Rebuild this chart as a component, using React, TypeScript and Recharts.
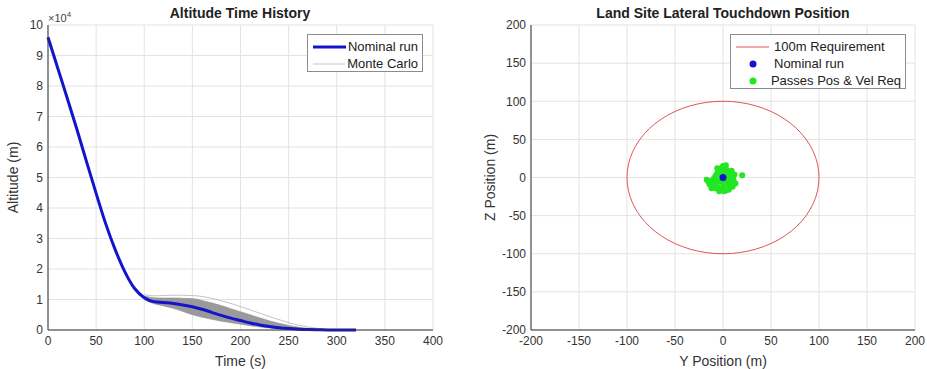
import React from "react";
import {
  ComposedChart,
  Line,
  Area,
  XAxis,
  YAxis,
  CartesianGrid,
  ScatterChart,
  Scatter,
  Label,
} from "recharts";

// ---- Altitude time history (left) ----
const times = [
  0, 10, 20, 30, 40, 50, 60, 70, 80, 90, 100, 110, 120, 130, 140, 150, 160,
  170, 180, 190, 200, 210, 220, 230, 240, 250, 260, 270, 280, 290, 300, 310, 320,
];
const nominalAlt = [
  96000, 86000, 76000, 65800, 55200, 44800, 34800, 26200, 19000, 13600, 10600,
  9300, 9000, 8700, 8200, 7600, 6800, 5800, 4800, 3900, 3100, 2300, 1650, 1150,
  750, 470, 270, 150, 80, 40, 20, 5, 0,
];
const bandTimes = [
  100, 110, 120, 130, 140, 150, 160, 170, 180, 190, 200, 210, 220, 230, 240,
  250, 260, 270, 280, 290, 300,
];
const bandLow = [
  9900, 8600, 7900, 7100, 6100, 5000, 4200, 3500, 2900, 2400, 1900, 1400, 1000,
  650, 400, 220, 110, 50, 20, 5, 0,
];
const bandHigh = [
  11200, 10600, 10500, 10500, 10400, 10300, 9700, 8900, 8000, 7000, 6000, 5000,
  4000, 3000, 2200, 1500, 950, 550, 280, 120, 40,
];
const mcUpperTimes = [
  100, 110, 120, 130, 140, 150, 160, 170, 180, 190, 200, 210, 220, 230, 240,
  250, 260, 270, 280, 290, 300, 310, 320,
];
const mcUpper = [
  11600, 11200, 11300, 11400, 11400, 11300, 11000, 10400, 9600, 8700, 7700,
  6600, 5500, 4400, 3400, 2400, 1600, 1000, 550, 250, 100, 30, 0,
];
const timeTicks = [0, 50, 100, 150, 200, 250, 300, 350, 400];
const altTicks = [0, 10000, 20000, 30000, 40000, 50000, 60000, 70000, 80000, 90000, 100000];

// ---- Lateral touchdown (right) ----
const requirementRadius = 100;
const posTicks = [-200, -150, -100, -50, 0, 50, 100, 150, 200];
const nominalTouchdown = [{ y: 0, z: 0 }];
const passY = [
  -17, -15, -12, -10, -8, -6, -5, -8, -6, -4, -2, 0, 2, 4, 6, 8, 10, 12, 11, 13,
  9, 6, 3, 0, -3, -2, 2, 4, 7, 5, -3, 1, -1, 3, -10, -13, -7, 8, 10, 20, -4, 1,
  6, -12, -14, 9, -6, 3,
];
const passZ = [
  -3, -6, -10, -8, -14, -12, -4, 2, 6, 10, 12, 15, 13, 10, 8, 5, 2, 4, -3, -8,
  -10, -14, -17, -12, -15, -6, -4, -8, -2, 3, 4, 6, -1, 1, -2, -5, -6, -6, -12,
  3, -18, -18, -16, -14, -9, 9, 12, 16,
];

const altData = times.map((t, i) => {
  const bi = bandTimes.indexOf(t);
  const mi = mcUpperTimes.indexOf(t);
  return {
    t,
    nominal: nominalAlt[i],
    band: bi >= 0 ? [bandLow[bi], bandHigh[bi]] : null,
    mcUpper: mi >= 0 ? mcUpper[mi] : null,
  };
});

// requirement circle, radius 100 m around the target
const circleData = Array.from({ length: 73 }, (_, i) => {
  const a = (i * 5 * Math.PI) / 180;
  return { y: requirementRadius * Math.cos(a), z: requirementRadius * Math.sin(a) };
});
const passData = passY.map((y, i) => ({ y, z: passZ[i] }));

const FONT = "'Liberation Sans', Arial, Helvetica, sans-serif";
const AXIS = "#333333";
const GRID = "#e3e3e3";
const BLUE = "#1414cc";
const GREEN = "#22e622";
const RED = "#e05555";

const tickStyle = { fontSize: 12, fill: "#333", fontFamily: FONT };

const Dot = (color: string, r: number) => (props: any) => (
  <circle cx={props.cx} cy={props.cy} r={r} fill={color} />
);
const NoShape = () => <g />;

const legendBox: React.CSSProperties = {
  position: "absolute",
  background: "#fff",
  border: "1px solid #8c8c8c",
  fontFamily: FONT,
  fontSize: 13,
  color: "#222",
  boxSizing: "border-box",
  padding: "3px 4px",
};

const rowStyle: React.CSSProperties = {
  display: "flex",
  alignItems: "center",
  height: 17,
  whiteSpace: "nowrap",
};

const titleStyle: React.CSSProperties = {
  position: "absolute",
  top: 5,
  fontFamily: FONT,
  fontSize: 14,
  fontWeight: "bold",
  color: "#222",
  transform: "translateX(-50%)",
  whiteSpace: "nowrap",
};

export default function App() {
  return (
    <div
      style={{
        position: "absolute",
        left: 0,
        top: 0,
        width: 927,
        height: 369,
        background: "#fff",
        overflow: "hidden",
      }}
    >
      <div style={{ position: "absolute", left: 0, top: 0 }}>
        <ComposedChart
          width={460}
          height={369}
          data={altData}
          margin={{ top: 25, right: 27, bottom: 1, left: 0 }}
        >
          <CartesianGrid stroke={GRID} />
          <XAxis
            dataKey="t"
            type="number"
            domain={[0, 400]}
            ticks={timeTicks}
            stroke={AXIS}
            tick={tickStyle}
            tickLine={false}
            tickSize={0}
            tickMargin={6}
            height={38}
          >
            <Label
              value="Time (s)"
              position="insideBottom"
              offset={2}
              style={{ fontSize: 14, fill: "#333", fontFamily: FONT }}
            />
          </XAxis>
          <YAxis
            type="number"
            domain={[0, 100000]}
            ticks={altTicks}
            tickFormatter={(v: number) => String(v / 10000)}
            stroke={AXIS}
            tick={tickStyle}
            tickLine={false}
            tickSize={0}
            tickMargin={5}
            width={48}
          >
            <Label
              value="Altitude (m)"
              angle={-90}
              position="insideLeft"
              offset={13}
              style={{ fontSize: 14, fill: "#333", fontFamily: FONT, textAnchor: "middle" }}
            />
          </YAxis>
          <Area
            dataKey="band"
            type="monotone"
            stroke="#8a8a8a"
            strokeWidth={0.5}
            fill="#9a9a9a"
            fillOpacity={1}
            isAnimationActive={false}
            connectNulls={false}
          />
          <Line
            dataKey="mcUpper"
            type="monotone"
            stroke="#b5b5b5"
            strokeWidth={0.8}
            dot={false}
            isAnimationActive={false}
          />
          <Line
            dataKey="nominal"
            type="monotone"
            stroke={BLUE}
            strokeWidth={3}
            dot={false}
            isAnimationActive={false}
          />
        </ComposedChart>
      </div>

      <div style={{ position: "absolute", left: 460, top: 0 }}>
        <ScatterChart
          width={467}
          height={369}
          margin={{ top: 25, right: 12, bottom: 1, left: 0 }}
        >
          <CartesianGrid stroke={GRID} />
          <XAxis
            dataKey="y"
            type="number"
            domain={[-200, 200]}
            ticks={posTicks}
            stroke={AXIS}
            tick={tickStyle}
            tickLine={false}
            tickSize={0}
            tickMargin={6}
            height={38}
            allowDataOverflow
          >
            <Label
              value="Y Position (m)"
              position="insideBottom"
              offset={2}
              style={{ fontSize: 14, fill: "#333", fontFamily: FONT }}
            />
          </XAxis>
          <YAxis
            dataKey="z"
            type="number"
            domain={[-200, 200]}
            ticks={posTicks}
            stroke={AXIS}
            tick={tickStyle}
            tickLine={false}
            tickSize={0}
            tickMargin={5}
            width={71}
            allowDataOverflow
          >
            <Label
              value="Z Position (m)"
              angle={-90}
              position="insideLeft"
              offset={30}
              style={{ fontSize: 14, fill: "#333", fontFamily: FONT, textAnchor: "middle" }}
            />
          </YAxis>
          <Scatter
            data={circleData}
            line={{ stroke: RED, strokeWidth: 1 }}
            shape={NoShape}
            isAnimationActive={false}
          />
          <Scatter data={passData} shape={Dot(GREEN, 3)} isAnimationActive={false} />
          <Scatter data={nominalTouchdown} shape={Dot(BLUE, 3.5)} isAnimationActive={false} />
        </ScatterChart>
      </div>

      {/* titles */}
      <div style={{ ...titleStyle, left: 240 }}>Altitude Time History</div>
      <div style={{ ...titleStyle, left: 723 }}>Land Site Lateral Touchdown Position</div>

      {/* exponent */}
      <div
        style={{
          position: "absolute",
          left: 48,
          top: 10,
          fontFamily: FONT,
          fontSize: 11,
          color: "#444",
        }}
      >
        ×10<sup style={{ fontSize: 8 }}>4</sup>
      </div>

      {/* left legend */}
      <div style={{ ...legendBox, left: 307, top: 34, width: 116, height: 38 }}>
        <div style={rowStyle}>
          <svg width={36} height={10}>
            <line x1={1} y1={5} x2={34} y2={5} stroke={BLUE} strokeWidth={3} />
          </svg>
          <span style={{ marginLeft: 2 }}>Nominal run</span>
        </div>
        <div style={rowStyle}>
          <svg width={36} height={10}>
            <line x1={1} y1={5} x2={34} y2={5} stroke="#b5b5b5" strokeWidth={0.8} />
          </svg>
          <span style={{ marginLeft: 2 }}>Monte Carlo</span>
        </div>
      </div>

      {/* right legend */}
      <div style={{ ...legendBox, left: 730, top: 34, width: 176, height: 55 }}>
        <div style={rowStyle}>
          <svg width={36} height={10}>
            <line x1={1} y1={5} x2={34} y2={5} stroke={RED} strokeWidth={1} />
          </svg>
          <span style={{ marginLeft: 3 }}>100m Requirement</span>
        </div>
        <div style={rowStyle}>
          <svg width={36} height={10}>
            <circle cx={18} cy={5} r={3.5} fill={BLUE} />
          </svg>
          <span style={{ marginLeft: 3 }}>Nominal run</span>
        </div>
        <div style={rowStyle}>
          <svg width={36} height={10}>
            <circle cx={18} cy={5} r={3.5} fill={GREEN} />
          </svg>
          <span style={{ marginLeft: 3 }}>Passes Pos &amp; Vel Req</span>
        </div>
      </div>
    </div>
  );
}
